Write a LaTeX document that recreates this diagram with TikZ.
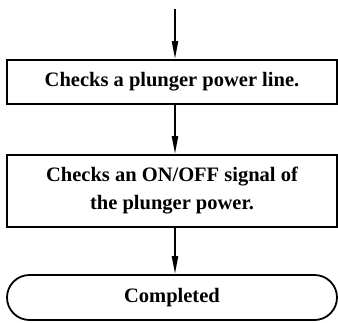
\documentclass[tikz,border=0pt]{standalone}
\usepackage{fontspec}
\setmainfont{Liberation Serif}
\usepackage{tikz}
\usetikzlibrary{shapes.misc,arrows.meta,positioning}

\begin{document}
\begin{tikzpicture}[
  x=1pt, y=-1pt,
  box/.style={rectangle, draw, line width=1.8pt, minimum width=330pt,
    align=center, inner sep=0pt, font=\fontsize{20.5}{28}\selectfont\bfseries},
  endbox/.style={rounded rectangle, draw, line width=1.8pt,
    minimum width=330pt, minimum height=45pt, inner sep=0pt,
    font=\fontsize{20.5}{28}\selectfont\bfseries},
  arrow/.style={-{Triangle[length=18pt,width=6pt]}, line width=2pt},
]
\useasboundingbox (0,0) rectangle (338,322);

% Steps
\coordinate (start) at (175,9);
\node[box, minimum height=44pt] (line) at (172,82) {Checks a plunger power line.};
\node[box, minimum height=72pt] (sig) at (172,191) {Checks an ON/OFF signal of\\the plunger power.};
\node[endbox] (done) at (172,297.5) {Completed};

% Arrows
\draw[arrow] (start) -- (start |- line.north);
\draw[arrow] (line.south -| start) -- (sig.north -| start);
\draw[arrow] (sig.south -| start) -- (done.north -| start);
\end{tikzpicture}
\end{document}
